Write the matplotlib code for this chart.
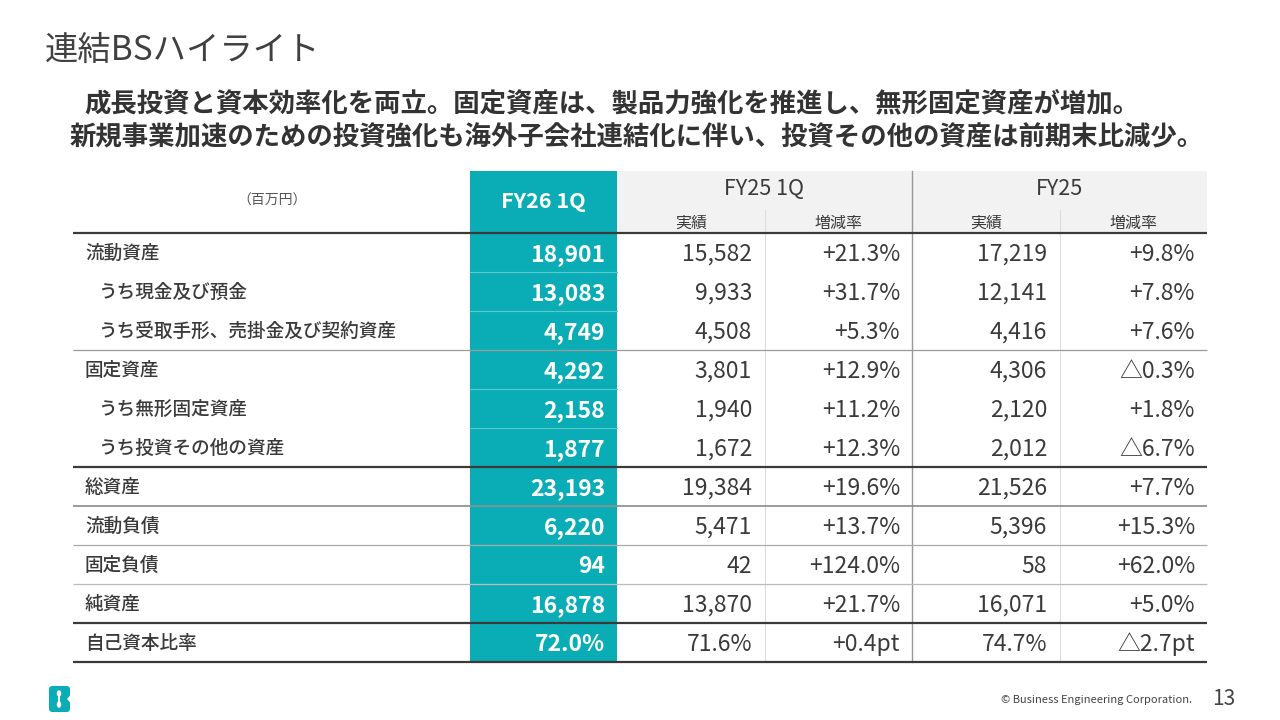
import matplotlib
matplotlib.use("Agg")
import matplotlib.pyplot as plt
from matplotlib.patches import Rectangle, FancyBboxPatch, Ellipse, Polygon

plt.rcParams['font.family'] = ['Noto Sans CJK JP', 'DejaVu Sans']

# ---------------- data ----------------
title = "連結BSハイライト"
subtitle1 = "成長投資と資本効率化を両立。固定資産は、製品力強化を推進し、無形固定資産が増加。"
subtitle2 = "新規事業加速のための投資強化も海外子会社連結化に伴い、投資その他の資産は前期末比減少。"
unit_label = "（百万円）"
col_main = "FY26 1Q"
col_groups = ["FY25 1Q", "FY25"]
sub_headers = ["実績", "増減率"]

row_labels = ["流動資産", "うち現金及び預金", "うち受取手形、売掛金及び契約資産",
              "固定資産", "うち無形固定資産", "うち投資その他の資産",
              "総資産", "流動負債", "固定負債", "純資産", "自己資本比率"]
row_indent = [0, 1, 1, 0, 1, 1, 0, 0, 0, 0, 0]
fy26_1q = [18901, 13083, 4749, 4292, 2158, 1877, 23193, 6220, 94, 16878, 72.0]
fy25_1q = [15582, 9933, 4508, 3801, 1940, 1672, 19384, 5471, 42, 13870, 71.6]
fy25_1q_rate = [21.3, 31.7, 5.3, 12.9, 11.2, 12.3, 19.6, 13.7, 124.0, 21.7, 0.4]
fy25 = [17219, 12141, 4416, 4306, 2120, 2012, 21526, 5396, 58, 16071, 74.7]
fy25_rate = [9.8, 7.8, 7.6, -0.3, 1.8, -6.7, 7.7, 15.3, 62.0, 5.0, -2.7]
ratio_row = 10  # the last row is a ratio (%), its change is in pt

footer = "© Business Engineering Corporation."
page_no = "13"

# ---------------- helpers ----------------
def fmt_val(v, i):
    if i == ratio_row:
        return f"{v:.1f}%"
    return f"{int(v):,}"

def fmt_rate(r, i):
    unit = "pt" if i == ratio_row else "%"
    if r < 0:
        return f"△{abs(r):.1f}{unit}"
    return f"+{r:.1f}{unit}"

TEAL = "#0AADB5"
DARK = "#3A3A3A"

fig = plt.figure(figsize=(12.8, 7.2), dpi=100)
ax = fig.add_axes([0, 0, 1, 1])
ax.set_xlim(0, 1280)
ax.set_ylim(720, 0)
ax.axis('off')

# titles
ax.text(45, 50, title, fontsize=24, color="#404040", va='center', ha='left')
ax.text(612, 104, subtitle1, fontsize=19, fontweight='bold', color="#333333", va='center', ha='center')
ax.text(637, 138, subtitle2, fontsize=19, fontweight='bold', color="#333333", va='center', ha='center')

# table geometry
x_left, x_right = 73, 1207
x_main0, x_main1 = 470, 617
col_edges = [617, 765, 912, 1060, 1207]
y_head_top, y_sub, y_head_bot = 171, 210, 233
row_h = 39
n = len(row_labels)
y_bottom = y_head_bot + row_h * n

# header background
ax.add_patch(Rectangle((x_main1, y_head_top), x_right - x_main1, y_head_bot - y_head_top,
                       facecolor="#F2F2F2", edgecolor='none', zorder=1))
# teal column
ax.add_patch(Rectangle((x_main0, y_head_top), x_main1 - x_main0, y_bottom - y_head_top + 1,
                       facecolor=TEAL, edgecolor='none', zorder=1))

# header texts
ax.text(272, 201, unit_label, fontsize=10, color="#555555", ha='center', va='center', zorder=5)
ax.text((x_main0 + x_main1) / 2, 208, col_main, fontsize=15.5, fontweight='bold', color='white',
        ha='center', va='baseline', zorder=5)
for g, name in enumerate(col_groups):
    cx = (col_edges[2 * g] + col_edges[2 * g + 2]) / 2
    ax.text(cx, 195, name, fontsize=15.5, color=DARK, ha='center', va='baseline', zorder=5)
    for s, sh in enumerate(sub_headers):
        sx = (col_edges[2 * g + s] + col_edges[2 * g + s + 1]) / 2
        ax.text(sx, 228, sh, fontsize=11.5, color=DARK, ha='center', va='baseline', zorder=5)

# vertical lines
ax.plot([765, 765], [y_sub, y_bottom], color="#DDDDDD", lw=0.8, zorder=2)
ax.plot([1060, 1060], [y_sub, y_bottom], color="#DDDDDD", lw=0.8, zorder=2)
ax.plot([912, 912], [y_head_top, y_bottom], color="#999999", lw=1.0, zorder=2)

# teal inner separators
for i in range(1, n):
    yy = y_head_bot + row_h * i
    ax.plot([x_main0, x_main1], [yy, yy], color="#5CC9CF", lw=0.8, zorder=2)

# horizontal rules (after row index -> style)
rules = {-1: ("#3A3A3A", 1.6), 2: ("#9A9A9A", 0.9), 5: ("#3A3A3A", 1.6), 6: ("#8A8A8A", 1.2),
         7: ("#AAAAAA", 0.9), 8: ("#BBBBBB", 0.9), 9: ("#3A3A3A", 1.6), 10: ("#3A3A3A", 1.6)}
for idx, (c, lw) in rules.items():
    yy = y_head_bot + row_h * (idx + 1)
    ax.plot([x_left, x_right], [yy, yy], color=c, lw=lw, zorder=3, solid_capstyle='butt')

# rows
NUM_FS = 16.5
for i in range(n):
    y_top = y_head_bot + row_h * i
    yb_num = y_top + 28
    yb_lab = y_top + 26
    lx = 98 if row_indent[i] else 85
    ax.text(lx, yb_lab, row_labels[i], fontsize=13.4, fontweight='medium', color=DARK,
            ha='left', va='baseline', zorder=5)
    ax.text(x_main1 - 12, yb_num, fmt_val(fy26_1q[i], i), fontsize=NUM_FS, fontweight='bold',
            color='white', ha='right', va='baseline', zorder=5)
    ax.text(col_edges[1] - 13, yb_num, fmt_val(fy25_1q[i], i), fontsize=NUM_FS, color=DARK,
            ha='right', va='baseline', zorder=5)
    ax.text(col_edges[2] - 12, yb_num, fmt_rate(fy25_1q_rate[i], i), fontsize=NUM_FS, color=DARK,
            ha='right', va='baseline', zorder=5)
    ax.text(col_edges[3] - 13, yb_num, fmt_val(fy25[i], i), fontsize=NUM_FS, color=DARK,
            ha='right', va='baseline', zorder=5)
    ax.text(col_edges[4] - 12, yb_num, fmt_rate(fy25_rate[i], i), fontsize=NUM_FS, color=DARK,
            ha='right', va='baseline', zorder=5)

# footer logo
ax.add_patch(FancyBboxPatch((49, 686), 21, 26, boxstyle="round,pad=0,rounding_size=3.5",
                            facecolor=TEAL, edgecolor='none', zorder=5))
ax.add_patch(Ellipse((59, 693.5), 4.5, 6.5, facecolor='white', edgecolor='none', zorder=6))
ax.add_patch(Ellipse((59, 704.5), 4.5, 6.5, facecolor='white', edgecolor='none', zorder=6))
ax.add_patch(Rectangle((58.2, 693), 1.6, 12, facecolor='white', edgecolor='none', zorder=6))
ax.add_patch(Polygon([[70.5, 695], [67, 699], [70.5, 703]], closed=True, facecolor='white',
                     edgecolor='none', zorder=6))

ax.text(1192, 700, footer, fontsize=8, color="#444444", ha='right', va='center')
ax.text(1224, 699, page_no, fontsize=15, color="#444444", ha='center', va='center')

fig.savefig("out.png", dpi=100)
